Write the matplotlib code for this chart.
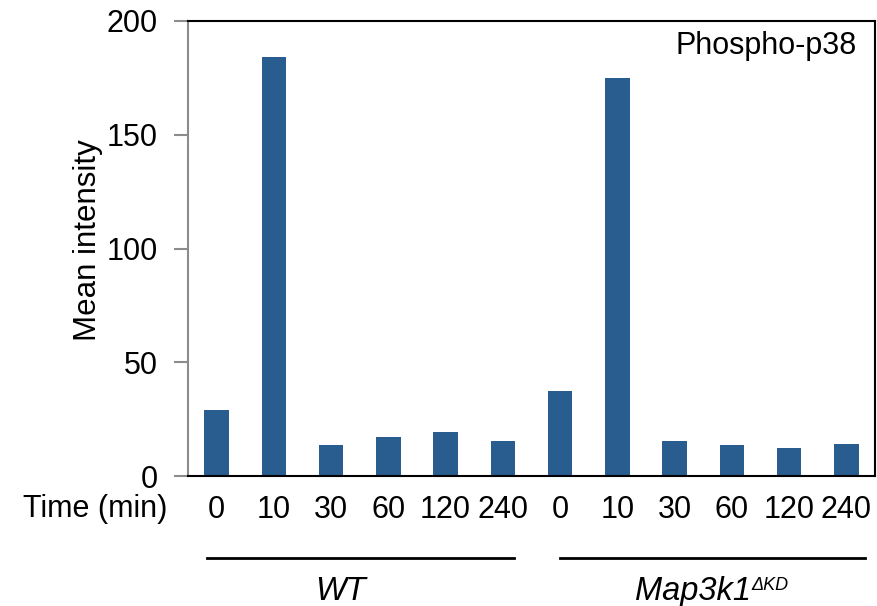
import numpy as np
import matplotlib.pyplot as plt
from matplotlib.transforms import blended_transform_factory

plt.rcParams["font.family"] = ["Liberation Sans", "DejaVu Sans"]

# ── data ────────────────────────────────────────────────
time_labels = ["0", "10", "30", "60", "120", "240"]
wt_values = [29.1, 184.2, 13.5, 17.3, 19.2, 15.4]
kd_values = [37.2, 175.1, 15.4, 13.5, 12.2, 14.2]
groups = ["WT", "Map3k1"]
kd_superscript = "ΔKD"

values = wt_values + kd_values
labels = time_labels + time_labels
x = np.arange(len(values))

BAR_COLOR = "#295D8F"
FS = 22

fig = plt.figure(figsize=(8.77, 6.06), dpi=100)
ax = fig.add_axes([188 / 877, 1 - 476 / 606, 687 / 877, 455 / 606])

ax.bar(x, values, width=0.43, color=BAR_COLOR, zorder=2)

ax.set_xlim(-0.5, len(values) - 0.5)
ax.set_ylim(0, 200)
ax.set_yticks([0, 50, 100, 150, 200])
ax.set_xticks(x)
ax.set_xticklabels(labels, fontsize=FS)
ax.tick_params(axis="x", length=0, pad=14)
ax.tick_params(axis="y", labelsize=FS, length=10, width=1.5,
               color="#8c8c8c", direction="out", pad=12)

for side in ["top", "right", "bottom"]:
    ax.spines[side].set_color("black")
    ax.spines[side].set_linewidth(1.5)
ax.spines["left"].set_color("#8c8c8c")
ax.spines["left"].set_linewidth(1.5)

ax.text(0.974, 0.927, "Phospho-p38", transform=ax.transAxes,
        ha="right", va="baseline", fontsize=FS)

fig.text(88 / 877, 1 - 240 / 606, "Mean intensity", rotation=90,
         ha="center", va="center", fontsize=FS + 0.5)
fig.text(167 / 877, 1 - 509 / 606, "Time (min)", ha="right", va="center",
         fontsize=FS)

# group brackets under the time labels
trans = blended_transform_factory(ax.transData, fig.transFigure)
n = len(time_labels)
ax.plot([-0.17, n - 1 + 0.19], [1 - 558 / 606] * 2, color="black", lw=2,
        transform=trans, clip_on=False)
ax.plot([n - 0.01, 2 * n - 1 + 0.33], [1 - 558 / 606] * 2, color="black", lw=2,
        transform=trans, clip_on=False)
ax.text(2.17, 1 - 600 / 606, groups[0], transform=trans, ha="center",
        va="baseline", fontsize=23.5, style="italic")
kd_txt = ax.text(8.32, 1 - 600 / 606, groups[1], transform=trans, ha="center",
                 va="baseline", fontsize=23.5, style="italic")
# superscript: offset from the bottom of the text box (includes descent)
ax.annotate(kd_superscript, xy=(1, 0), xycoords=kd_txt,
            xytext=(0.5, 12), textcoords="offset points",
            ha="left", va="baseline", fontsize=13, style="italic")

fig.savefig("out.png", dpi=100)
